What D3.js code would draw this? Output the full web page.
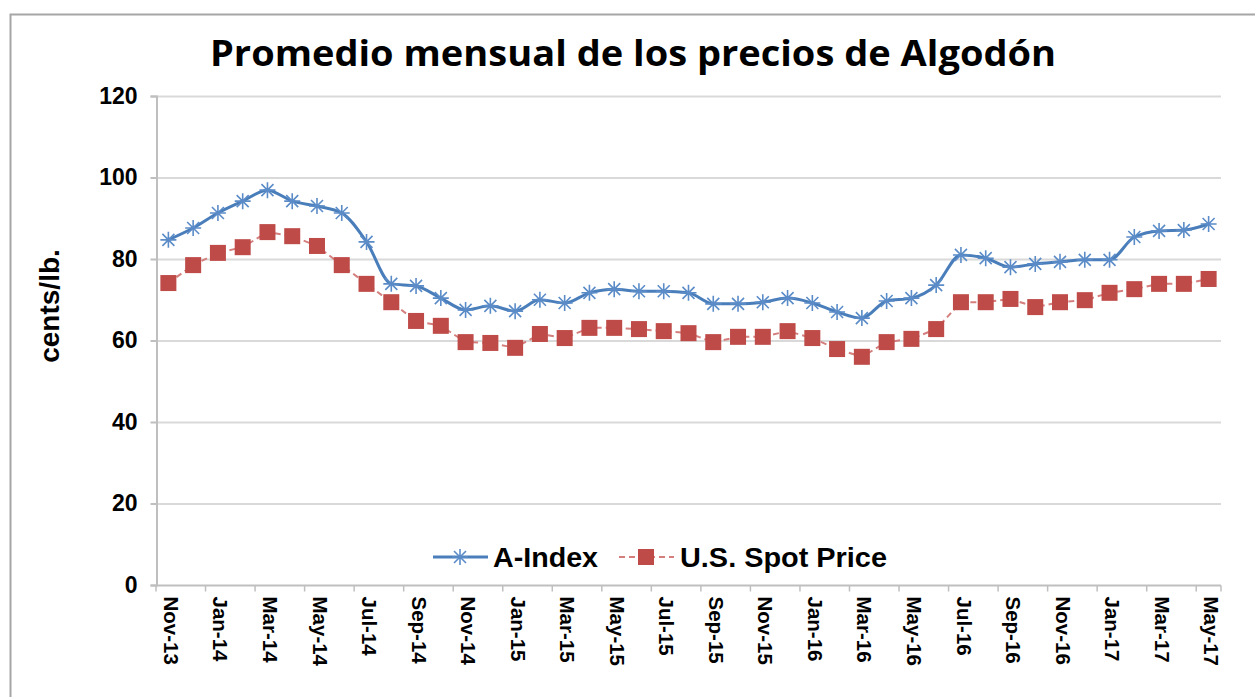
<!DOCTYPE html>
<html lang="es">
<head>
<meta charset="utf-8"/>
<style>
  body { margin: 0; background: #fff; }
  text { font-family: "Liberation Sans", Arial, sans-serif; }
</style>
<script src="https://d3js.org/d3.v7.min.js"></script>
</head>
<body>
<svg id="chart" width="1255" height="697"></svg>
<script>
// monthly categories Nov-13 .. May-17
let months = ["Nov-13","Dec-13","Jan-14","Feb-14","Mar-14","Apr-14","May-14","Jun-14","Jul-14","Aug-14","Sep-14","Oct-14",
  "Nov-14","Dec-14","Jan-15","Feb-15","Mar-15","Apr-15","May-15","Jun-15","Jul-15","Aug-15","Sep-15","Oct-15",
  "Nov-15","Dec-15","Jan-16","Feb-16","Mar-16","Apr-16","May-16","Jun-16","Jul-16","Aug-16","Sep-16","Oct-16",
  "Nov-16","Dec-16","Jan-17","Feb-17","Mar-17","Apr-17","May-17"]

let aIndex = [84.7,87.6,91.3,94.2,96.9,94.2,93.0,91.3,84.2,73.9,73.4,70.4,
  67.5,68.5,67.2,70.0,69.2,71.7,72.6,72.1,72.1,71.7,69.0,69.0,
  69.4,70.4,69.2,67.0,65.5,69.7,70.4,73.6,81.0,80.2,78.0,78.8,
  79.3,79.8,79.8,85.4,86.9,87.1,88.6]

let spotPrice = [74.1,78.5,81.5,82.9,86.6,85.6,83.2,78.5,73.9,69.4,64.8,63.6,
  59.6,59.4,58.2,61.6,60.6,63.1,63.1,62.8,62.3,61.8,59.6,60.9,
  60.9,62.3,60.6,57.9,56.0,59.6,60.4,62.8,69.4,69.4,70.2,68.2,
  69.4,69.9,71.7,72.6,73.9,73.9,75.1]

let yTicks = [0,20,40,60,80,100,120]

let svg = d3.select("#chart")
let plotLeft = 156, plotRight = 1221, plotTop = 96, plotBottom = 585

// frame
svg.append("path")
   .attr("d", "M10.5,697 L10.5,14.5 L1255,14.5")
   .attr("fill", "none").attr("stroke", "#a6a6a6").attr("stroke-width", 2)

svg.append("text")
   .attr("x", 633).attr("y", 66)
   .attr("text-anchor", "middle")
   .attr("font-size", 36).attr("font-weight", "bold")
   .style("font-family", "'Open Sans', sans-serif")
   .attr("textLength", 846).attr("lengthAdjust", "spacingAndGlyphs")
   .text("Promedio mensual de los precios de Algodón")

let x = d3.scaleBand().domain(months).range([plotLeft, plotRight])
let y = d3.scaleLinear().domain([0, 120]).range([plotBottom, plotTop])
let cx = d => x(d) + x.bandwidth() / 2

// gridlines
svg.append("g").selectAll("line")
   .data(yTicks.slice(1)).enter().append("line")
   .attr("x1", plotLeft).attr("x2", plotRight)
   .attr("y1", d => y(d) + 0.5).attr("y2", d => y(d) + 0.5)
   .attr("stroke", "#d9d9d9").attr("stroke-width", 2)

// y axis
let yAxis = svg.append("g")
   .attr("transform", `translate(${plotLeft + 0.5},0)`)
   .call(d3.axisLeft(y).tickValues(yTicks).tickSize(6).tickPadding(13))
yAxis.select(".domain").attr("stroke", "#bfbfbf").attr("stroke-width", 2)
yAxis.selectAll(".tick line").attr("stroke", "#bfbfbf").attr("stroke-width", 2)
yAxis.selectAll("text")
   .attr("font-size", 23).attr("font-weight", "bold").attr("fill", "#000")
   .style("font-family", "'Liberation Sans', Arial, sans-serif")

// x axis
let xAxis = svg.append("g").attr("transform", `translate(0,${plotBottom + 0.5})`)
xAxis.append("line").attr("x1", plotLeft).attr("x2", plotRight)
   .attr("stroke", "#bfbfbf").attr("stroke-width", 2)
xAxis.selectAll("line.tk")
   .data(months.filter((d, i) => i % 2 == 0).concat(["end"])).enter().append("line")
   .attr("class", "tk")
   .attr("x1", d => d == "end" ? plotRight : x(d)).attr("x2", d => d == "end" ? plotRight : x(d))
   .attr("y1", 0).attr("y2", 6)
   .attr("stroke", "#bfbfbf").attr("stroke-width", 1.5)
xAxis.selectAll("text")
   .data(months.filter((d, i) => i % 2 == 0)).enter().append("text")
   .attr("transform", d => `translate(${cx(d) + 1},11) rotate(90)`)
   .attr("font-size", 20.5).attr("font-weight", "bold")
   .attr("dominant-baseline", "middle")
   .text(d => d)

// y axis title
svg.append("text")
   .attr("transform", "translate(52,306) rotate(-90)")
   .attr("text-anchor", "middle").attr("dominant-baseline", "middle")
   .attr("font-size", 28).attr("font-weight", "bold")
   .text("cents/lb.")

let blue = "#4a7ebb", red = "#be4b48"

// series lines
let line = d3.line().x((d, i) => cx(months[i])).y(d => y(d))
let smooth = d3.line().x((d, i) => cx(months[i])).y(d => y(d)).curve(d3.curveMonotoneX)

svg.append("path").datum(spotPrice)
   .attr("d", line).attr("fill", "none")
   .attr("stroke", "#d47f7d").attr("stroke-width", 2).attr("stroke-dasharray", "6,4")

svg.append("path").datum(aIndex)
   .attr("d", smooth).attr("fill", "none")
   .attr("stroke", blue).attr("stroke-width", 3)

// markers
function drawStar(g) {
  g.append("path").attr("d", "M-8,0 L8,0 M0,-8 L0,8 M-6,-6 L6,6 M-6,6 L6,-6")
   .attr("stroke", "#5b8cc8").attr("stroke-width", 1.6).attr("fill", "none")
}

svg.append("g").selectAll("rect")
   .data(spotPrice).enter().append("rect")
   .attr("x", (d, i) => cx(months[i]) - 8).attr("y", d => y(d) - 8)
   .attr("width", 16).attr("height", 16)
   .attr("fill", red)

svg.append("g").selectAll("g")
   .data(aIndex).enter().append("g")
   .attr("transform", (d, i) => `translate(${cx(months[i])},${y(d)})`)
   .each(function() { drawStar(d3.select(this)) })

// legend
let lg = svg.append("g")
lg.append("line").attr("x1", 433).attr("x2", 488).attr("y1", 557).attr("y2", 557)
  .attr("stroke", blue).attr("stroke-width", 3)
drawStar(lg.append("g").attr("transform", "translate(460,557)"))
lg.append("text").attr("x", 493).attr("y", 567).attr("font-size", 27).attr("font-weight", "bold")
  .attr("textLength", 105).attr("lengthAdjust", "spacingAndGlyphs").text("A-Index")
lg.append("line").attr("x1", 619).attr("x2", 674).attr("y1", 557).attr("y2", 557)
  .attr("stroke", "#d47f7d").attr("stroke-width", 2).attr("stroke-dasharray", "6,4")
lg.append("rect").attr("x", 638).attr("y", 549).attr("width", 16).attr("height", 16).attr("fill", red)
lg.append("text").attr("x", 680).attr("y", 567).attr("font-size", 27).attr("font-weight", "bold")
  .attr("textLength", 207).attr("lengthAdjust", "spacingAndGlyphs").text("U.S. Spot Price")
</script>
</body>
</html>
